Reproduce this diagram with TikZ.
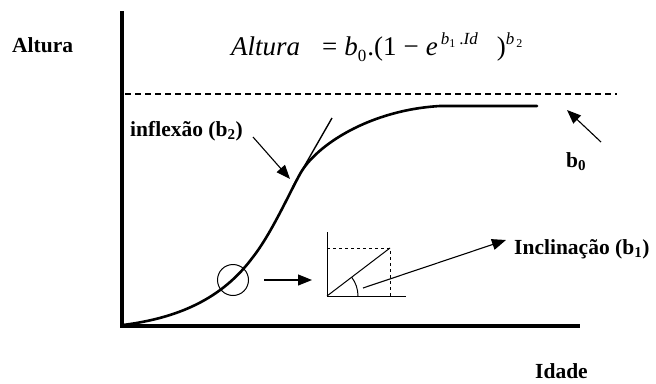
\documentclass[tikz,border=0pt]{standalone}
\usepackage{fontspec}
\setmainfont{Liberation Serif}
\usetikzlibrary{arrows.meta}
\tikzset{
  axis/.style={line width=3.2pt},
  curve/.style={line width=2.6pt, line join=round, line cap=round},
  thin/.style={line width=1pt},
  lbl/.style={font=\bfseries\fontsize{21.5}{24}\selectfont, inner sep=0pt, anchor=base west},
  arr/.style={line width=1.1pt, -{Triangle[length=14pt,width=11pt]}},
}
\newcommand{\fsz}[1]{\fontsize{#1}{#1}\selectfont}
\begin{document}
\begin{tikzpicture}[x=1pt,y=-1pt]
\useasboundingbox (0,0) rectangle (656,383);
% axes
\coordinate (O) at (122,326);
\coordinate (ytop) at (122,11);
\coordinate (xend) at (580,326);
\draw[axis] (ytop) -- (O) -- (xend);
% labels
\node[lbl] (altura) at (12,52) {Altura};
\node[lbl] (idade) at (535,378) {Idade};
\node[inner sep=0pt, anchor=base west, font=\fsz{27}] (eq) at (231,55)
  {\itshape Altura\upshape\hspace{22pt}=\hspace{7pt}\itshape b\upshape\raisebox{-6pt}{\fsz{17}0}\hspace{1pt}.(1\hspace{7pt}−\hspace{7pt}\itshape e\upshape\hspace{3pt}\raisebox{11pt}{\fsz{17}\itshape b\upshape\raisebox{-3pt}{\fsz{12}1}\hspace{4pt}.\itshape Id\upshape}\hspace{19pt})\raisebox{11pt}{\fsz{17}\itshape b\upshape\hspace{2pt}\raisebox{-3pt}{\fsz{12}2}}};
% dashed asymptote
\coordinate (d1) at (125,94);
\coordinate (d2) at (617,94);
\draw[line width=1.1pt, dash pattern=on 6pt off 4pt] (d1) -- (d2);
% growth curve
\coordinate (c0) at (123,325);
\coordinate (c1) at (253,257);
\coordinate (c2) at (300,174);
\coordinate (c3) at (440,106);
\coordinate (c4) at (537,106);
\draw[curve] (c0) .. controls (178,318) and (222,299) .. (c1)
  .. controls (271,234) and (288,196) .. (c2)
  .. controls (316,145) and (370,110) .. (c3) -- (c4);
% tangent
\coordinate (t1) at (332,118);
\coordinate (t2) at (293,186);
\draw[line width=1.4pt] (t1) -- (t2);
% inflexao
\node[lbl] (infl) at (130,136) {inflexão (b\textsubscript{2})};
\coordinate (inflTip) at (290,179);
\coordinate (inflTail) at (253,137);
\draw[arr] (inflTail) -- (inflTip);
% b0
\node[lbl] (b0) at (566,167) {b\textsubscript{0}};
\coordinate (b0tail) at (601,142);
\coordinate (b0tip) at (567,110);
\draw[arr] (b0tail) -- (b0tip);
% circle and arrow
\node[draw, circle, thin, minimum size=31pt, inner sep=0pt] (circ) at (233,280) {};
\coordinate (a1) at (264,280);
\coordinate (a2) at (312,280);
\draw[arr] (a1) -- (a2);
% small figure
\coordinate (so) at (327,296);
\coordinate (sv) at (327,232);
\coordinate (sh) at (406,296);
\coordinate (sc) at (390,248);
\coordinate (sarc) at (358,296);
\draw[thin] (sv) -- (so) -- (sh);
\draw[thin, dashed] (327,248) -- (sc) -- (390,296);
\draw[thin] (so) -- (sc);
\draw[thin] (sarc) arc[start angle=0, end angle=37, radius=31pt];
% inclinacao
\node[lbl] (incl) at (514,254) {Inclinação (b\textsubscript{1})};
\coordinate (i1) at (363,288);
\coordinate (itip) at (506,240);
\draw[arr] (i1) -- (itip);
\end{tikzpicture}
\end{document}
